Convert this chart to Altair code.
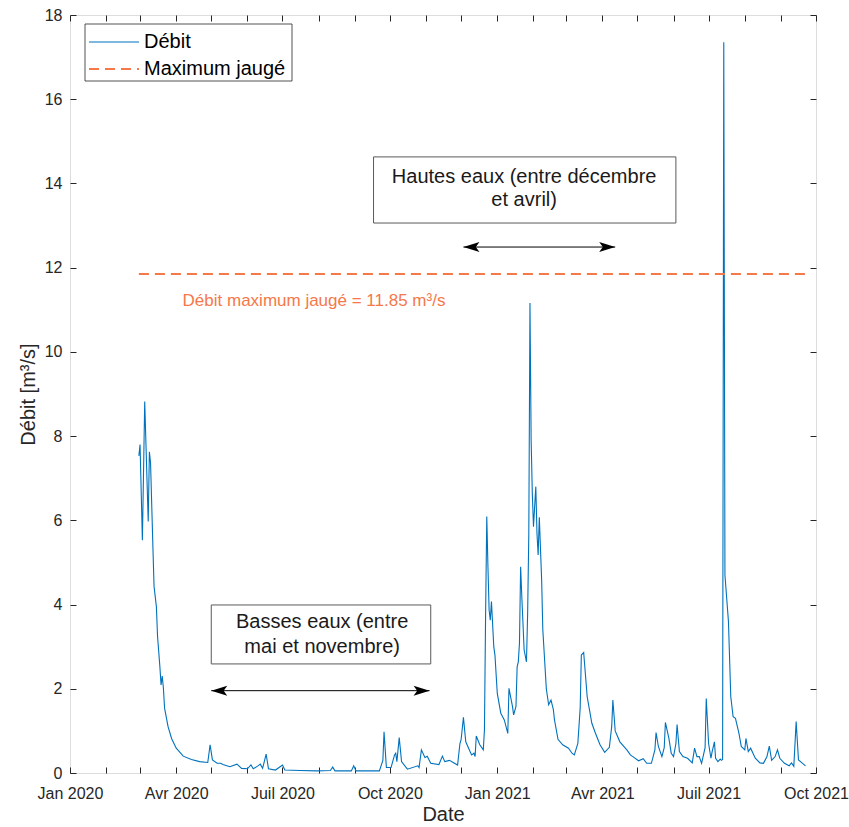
import altair as alt
import pandas as pd

FONT = "Liberation Sans"
BLUE = "#0072BD"
ORANGE = "#F5784A"
AXIS_COLOR = "#262626"

# ---------------- data ----------------
dates = [
    "2020-02-29", "2020-03-01", "2020-03-03", "2020-03-05", "2020-03-08", "2020-03-09",
    "2020-03-10", "2020-03-12", "2020-03-13", "2020-03-15", "2020-03-16", "2020-03-18",
    "2020-03-19", "2020-03-20", "2020-03-21", "2020-03-22", "2020-03-25", "2020-03-28",
    "2020-04-01", "2020-04-07", "2020-04-14", "2020-04-21", "2020-04-28", "2020-04-30",
    "2020-05-02", "2020-05-06", "2020-05-09", "2020-05-11", "2020-05-17", "2020-05-23",
    "2020-05-27",
    "2020-06-01", "2020-06-04", "2020-06-06", "2020-06-10", "2020-06-12", "2020-06-14",
    "2020-06-17", "2020-06-19", "2020-06-25", "2020-07-01", "2020-07-03", "2020-07-16",
    "2020-07-30",
    "2020-08-11", "2020-08-13", "2020-08-15", "2020-08-29", "2020-08-31", "2020-09-02",
    "2020-09-22", "2020-09-25", "2020-09-26", "2020-09-28",
    "2020-10-02", "2020-10-05", "2020-10-06", "2020-10-07", "2020-10-09", "2020-10-11",
    "2020-10-16", "2020-10-25", "2020-10-26", "2020-10-28", "2020-10-31",
    "2020-11-02", "2020-11-05", "2020-11-12", "2020-11-15", "2020-11-17", "2020-11-21",
    "2020-11-28", "2020-11-30",
    "2020-12-01", "2020-12-03", "2020-12-05", "2020-12-08", "2020-12-10", "2020-12-12",
    "2020-12-13", "2020-12-14", "2020-12-17", "2020-12-20", "2020-12-21", "2020-12-22",
    "2020-12-23", "2020-12-24", "2020-12-25", "2020-12-26", "2020-12-27", "2020-12-29",
    "2020-12-30",
    "2021-01-01", "2021-01-04", "2021-01-07", "2021-01-10", "2021-01-11", "2021-01-14",
    "2021-01-15", "2021-01-17", "2021-01-18", "2021-01-19", "2021-01-20", "2021-01-21",
    "2021-01-22", "2021-01-24", "2021-01-26", "2021-01-27", "2021-01-28", "2021-01-29",
    "2021-01-30", "2021-01-31",
    "2021-02-01", "2021-02-03", "2021-02-04", "2021-02-05", "2021-02-06", "2021-02-08",
    "2021-02-09", "2021-02-12", "2021-02-14", "2021-02-16", "2021-02-18", "2021-02-19",
    "2021-02-22", "2021-02-26",
    "2021-03-03", "2021-03-06", "2021-03-08", "2021-03-11", "2021-03-13", "2021-03-14",
    "2021-03-16", "2021-03-19", "2021-03-23", "2021-03-26", "2021-03-30",
    "2021-04-03", "2021-04-07", "2021-04-09", "2021-04-10", "2021-04-12", "2021-04-16",
    "2021-04-22", "2021-04-25", "2021-04-28",
    "2021-05-02", "2021-05-06", "2021-05-09", "2021-05-13", "2021-05-16", "2021-05-17",
    "2021-05-19", "2021-05-22", "2021-05-24", "2021-05-25", "2021-05-28", "2021-05-30",
    "2021-06-01", "2021-06-03", "2021-06-04", "2021-06-06", "2021-06-09", "2021-06-13",
    "2021-06-17", "2021-06-19", "2021-06-21", "2021-06-23", "2021-06-25", "2021-06-28",
    "2021-06-29",
    "2021-07-01", "2021-07-03", "2021-07-04", "2021-07-06", "2021-07-07", "2021-07-09",
    "2021-07-11", "2021-07-12", "2021-07-13", "2021-07-14", "2021-07-15", "2021-07-18",
    "2021-07-20", "2021-07-22", "2021-07-24", "2021-07-27", "2021-07-29",
    "2021-08-01", "2021-08-02", "2021-08-04", "2021-08-06", "2021-08-10", "2021-08-14",
    "2021-08-17", "2021-08-20", "2021-08-22", "2021-08-24", "2021-08-27", "2021-08-29",
    "2021-08-31",
    "2021-09-04", "2021-09-08", "2021-09-10", "2021-09-12", "2021-09-14", "2021-09-16",
    "2021-09-19", "2021-09-22",
]

debit = [
    7.53, 7.80, 5.53, 8.82, 5.97, 7.63,
    7.36, 5.38, 4.43, 3.95, 3.24, 2.52,
    2.09, 2.30, 2.02, 1.54, 1.10, 0.82,
    0.59, 0.40, 0.32, 0.27, 0.25, 0.67,
    0.31, 0.23, 0.23, 0.20, 0.15, 0.21,
    0.11,
    0.10, 0.19, 0.10, 0.17, 0.21, 0.11,
    0.45, 0.10, 0.07, 0.19, 0.07, 0.06,
    0.05,
    0.06, 0.14, 0.05, 0.05, 0.17, 0.05,
    0.05, 0.30, 0.98, 0.13,
    0.13, 0.43, 0.47, 0.27, 0.84, 0.27,
    0.09, 0.17, 0.13, 0.55, 0.37,
    0.40, 0.23, 0.20, 0.40, 0.27, 0.30,
    0.19, 0.70,
    0.79, 1.32, 0.74, 0.55, 0.43, 0.47,
    0.39, 0.88, 0.67, 0.55, 1.02, 3.79,
    6.09, 4.90, 3.87, 3.63, 4.07, 3.00,
    2.80,
    1.89, 1.42, 1.26, 0.94, 2.01, 1.58,
    1.38, 1.58, 2.52, 2.64, 3.08, 4.90,
    4.19, 2.92, 2.64, 3.79, 5.69, 11.16,
    7.91, 6.64,
    5.85, 6.80, 5.69, 5.18, 6.07, 4.58,
    3.40, 2.00, 1.62, 1.73, 1.51, 1.26,
    0.80, 0.67,
    0.59, 0.47, 0.43, 0.70, 1.54, 2.80,
    2.86, 1.81, 1.18, 0.95, 0.67,
    0.49, 0.61, 1.10, 1.73, 1.00, 0.74,
    0.55, 0.43, 0.37,
    0.29, 0.34, 0.23, 0.23, 0.55, 0.96,
    0.63, 0.39, 0.60, 1.20, 0.82, 0.47,
    0.39, 0.70, 1.15, 0.51, 0.39, 0.35,
    0.24, 0.59, 0.39, 0.39, 0.23, 0.60,
    1.77,
    0.70, 0.35, 0.50, 0.74, 0.35, 0.27,
    0.33, 0.30, 0.32, 17.35, 4.70, 3.60,
    1.81, 1.34, 1.30, 0.94, 0.63,
    0.55, 0.82, 0.51, 0.59, 0.35, 0.24,
    0.23, 0.39, 0.64, 0.30, 0.39, 0.55,
    0.35,
    0.23, 0.17, 0.24, 0.16, 1.22, 0.31,
    0.24, 0.17,
]
assert len(dates) == len(debit)

max_jauge = 11.85
max_dates = ["2020-02-29", "2021-09-22"]
max_label = "Débit maximum jaugé = 11.85 m³/s"
max_label_date = ["2020-07-28"]
max_label_y = [11.22]

legend_names = ["Débit", "Maximum jaugé"]

# annotation boxes (periods of high / low water)
box_x = ["2020-09-17", "2020-05-01"]
box_x2 = ["2021-06-03", "2020-11-05"]
box_y = [14.63, 3.99]
box_y2 = [13.06, 2.59]
note_x = ["2021-01-24", "2021-01-24", "2020-08-04", "2020-08-04"]
note_y = [14.15, 13.60, 3.59, 3.00]
note_text = ["Hautes eaux (entre décembre", "et avril)", "Basses eaux (entre", "mai et novembre)"]
arrow_start = ["2020-12-03", "2020-05-01"]
arrow_end = ["2021-04-12", "2020-11-04"]
arrow_y = [12.49, 1.955]

# axis ticks
tick_months = [(2020, m) for m in range(1, 13)] + [(2021, m) for m in range(1, 11)]
month_names = ["Jan", "Avr", "Juil", "Oct"]
y_ticks = [0, 2, 4, 6, 8, 10, 12, 14, 16, 18]

# ---------------- tables ----------------
df = pd.DataFrame({"date": dates, "debit": debit})
df_max = pd.DataFrame({"date": max_dates, "debit": [max_jauge, max_jauge]})
df_lab = pd.DataFrame({"date": max_label_date, "y": max_label_y, "t": [max_label]})
df_box = pd.DataFrame({"x": box_x, "x2": box_x2, "y": box_y, "y2": box_y2})
df_note = pd.DataFrame({"x": note_x, "y": note_y, "t": note_text})
df_arrow = pd.DataFrame({"start": arrow_start, "end": arrow_end, "y": arrow_y})
one = pd.DataFrame({"k": [0]})

# ---------------- scales / axes ----------------
x_scale = alt.Scale(
    type="utc",
    domain=[alt.DateTime(year=2020, month=1, date=1, utc=True),
            alt.DateTime(year=2021, month=10, date=1, utc=True)],
)
y_scale = alt.Scale(domain=[0, 18], nice=False)
tick_values = [alt.DateTime(year=y, month=m, date=1, utc=True) for (y, m) in tick_months]
label_expr = (
    "utcmonth(datum.value) % 3 == 0 ? "
    "['" + "','".join(month_names) + "'][floor(utcmonth(datum.value) / 3)] + ' ' + utcyear(datum.value) : ''"
)

common = dict(
    domain=False, grid=False, ticks=True, tickSize=6, offset=-6,
    tickColor=AXIS_COLOR, tickWidth=1,
    labelColor=AXIS_COLOR, labelFont=FONT, labelFontSize=16,
    titleColor=AXIS_COLOR, titleFont=FONT, titleFontSize=20, titleFontWeight="normal",
)

x_axis = alt.Axis(values=tick_values, labelExpr=label_expr, title="Date", orient="bottom",
                  labelPadding=12, titlePadding=3, labelFlush=False, labelOverlap=False,
                  **common)
y_axis = alt.Axis(values=y_ticks, title="Débit [m³/s]", orient="left", labelPadding=8,
                  titlePadding=6, labelOverlap=False, **common)
x_axis_top = alt.Axis(values=tick_values, labels=False, title=None, orient="top", **common)
y_axis_right = alt.Axis(values=y_ticks, labels=False, title=None, orient="right", **common)

# ---------------- layers ----------------
line = alt.Chart(df).mark_line(color=BLUE, strokeWidth=1.1).encode(
    x=alt.X("date:T", scale=x_scale, axis=x_axis),
    y=alt.Y("debit:Q", scale=y_scale, axis=y_axis),
)

boxes = alt.Chart(df_box).mark_rect(fill="white", stroke="#595959", strokeWidth=1).encode(
    x=alt.X("x:T", scale=x_scale, axis=None), x2="x2:T",
    y=alt.Y("y:Q", scale=y_scale, axis=None), y2="y2:Q",
)
notes = alt.Chart(df_note).mark_text(font=FONT, fontSize=20, color="#1a1a1a",
                                     align="center", baseline="middle").encode(
    x=alt.X("x:T", scale=x_scale, axis=None),
    y=alt.Y("y:Q", scale=y_scale, axis=None),
    text="t:N",
)
shafts = alt.Chart(df_arrow).mark_rule(color="black", strokeWidth=1).encode(
    x=alt.X("start:T", scale=x_scale, axis=None), x2="end:T",
    y=alt.Y("y:Q", scale=y_scale, axis=None),
)
LEFT_HEAD = "M0,0 L2,-0.62 L1.55,0 L2,0.62 Z"
RIGHT_HEAD = "M0,0 L-2,-0.62 L-1.55,0 L-2,0.62 Z"
head_l = alt.Chart(df_arrow).mark_point(shape=LEFT_HEAD, size=256, filled=True,
                                        fill="black", strokeWidth=0, opacity=1).encode(
    x=alt.X("start:T", scale=x_scale, axis=None),
    y=alt.Y("y:Q", scale=y_scale, axis=None),
)
head_r = alt.Chart(df_arrow).mark_point(shape=RIGHT_HEAD, size=256, filled=True,
                                        fill="black", strokeWidth=0, opacity=1).encode(
    x=alt.X("end:T", scale=x_scale, axis=None),
    y=alt.Y("y:Q", scale=y_scale, axis=None),
)
max_text = alt.Chart(df_lab).mark_text(font=FONT, fontSize=17, color=ORANGE,
                                       align="center", baseline="middle").encode(
    x=alt.X("date:T", scale=x_scale, axis=None),
    y=alt.Y("y:Q", scale=y_scale, axis=None),
    text="t:N",
)
max_line = alt.Chart(df_max).mark_line(color=ORANGE, strokeWidth=1.8, strokeDash=[10, 6]).encode(
    x=alt.X("date:T", scale=x_scale, axis=x_axis_top),
    y=alt.Y("debit:Q", scale=y_scale, axis=y_axis_right),
)

# legend (drawn by hand, MATLAB style)
leg_box = alt.Chart(one).mark_rect(fill="white", stroke=AXIS_COLOR, strokeWidth=0.8).encode(
    x=alt.value(15), x2=alt.value(222), y=alt.value(9), y2=alt.value(66))
leg_l1 = alt.Chart(one).mark_rule(color=BLUE, strokeWidth=1.1).encode(
    x=alt.value(19), x2=alt.value(69), y=alt.value(27))
leg_l2 = alt.Chart(one).mark_rule(color=ORANGE, strokeWidth=1.8, strokeDash=[10, 6]).encode(
    x=alt.value(19), x2=alt.value(69), y=alt.value(54))
leg_t1 = alt.Chart(one).mark_text(text=legend_names[0], font=FONT, fontSize=20, color="black",
                                  align="left", baseline="middle").encode(
    x=alt.value(74), y=alt.value(27))
leg_t2 = alt.Chart(one).mark_text(text=legend_names[1], font=FONT, fontSize=20, color="black",
                                  align="left", baseline="middle").encode(
    x=alt.value(74), y=alt.value(54))

chart = (
    alt.layer(line, boxes, notes, shafts, head_l, head_r, max_text, max_line,
              leg_box, leg_l1, leg_l2, leg_t1, leg_t2)
    .resolve_axis(x="independent", y="independent")
    .properties(
        width=746, height=758,
        autosize=alt.AutoSizeParams(type="none"),
        padding={"left": 70, "top": 15, "right": 33, "bottom": 54},
        background="white",
    )
    .configure_view(stroke=AXIS_COLOR, strokeWidth=1)
    .configure(font=FONT)
)

chart.save("out.html", embed_options={"renderer": "svg", "actions": False})
